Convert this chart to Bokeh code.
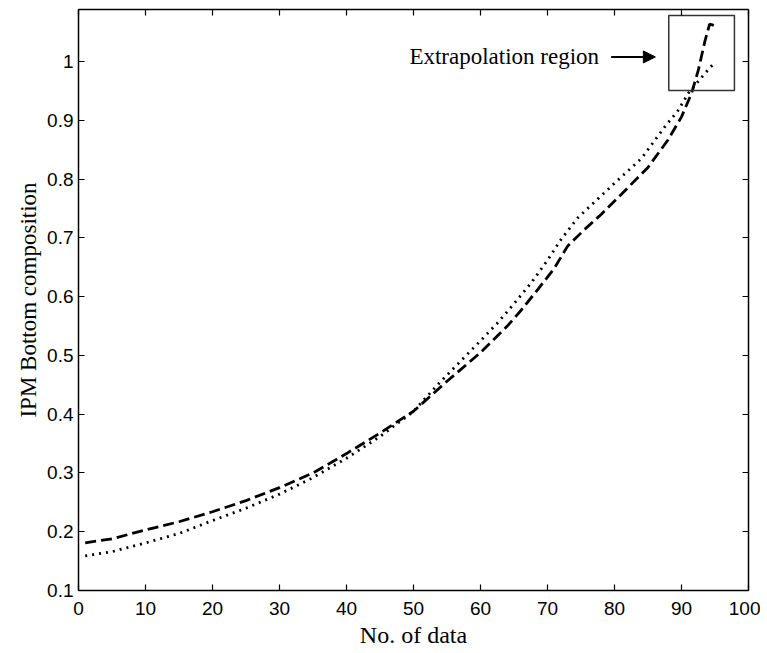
from bokeh.plotting import figure
from bokeh.models import (Range1d, FixedTicker, LinearAxis, CustomJSTickFormatter,
                          Arrow, NormalHead, Label)
from bokeh.embed import file_html
from bokeh.resources import INLINE

# ---- data ----
x_dashed = [1, 5, 10, 15, 20, 25, 30, 35, 40, 45, 50, 55, 60, 64, 66, 68.6, 71, 73, 75.5, 78,
            81, 85, 88, 90, 91.5, 92.5, 93.5, 94.2, 95]
y_dashed = [0.181, 0.188, 0.203, 0.217, 0.234, 0.253, 0.275, 0.300, 0.333, 0.368, 0.405,
            0.456, 0.505, 0.550, 0.576, 0.613, 0.648, 0.686, 0.714, 0.740, 0.774, 0.820,
            0.867, 0.906, 0.946, 0.985, 1.035, 1.064, 1.061]
x_dotted = [1, 5, 10, 15, 20, 25, 30, 35, 40, 45, 50, 54, 60, 62.6, 65, 67.6, 70, 72, 74.5,
            80, 84, 87.5, 89.5, 91, 93.5, 95]
y_dotted = [0.159, 0.166, 0.181, 0.197, 0.219, 0.240, 0.264, 0.292, 0.325, 0.362, 0.405,
            0.455, 0.525, 0.556, 0.588, 0.624, 0.662, 0.697, 0.734, 0.793, 0.835, 0.889,
            0.917, 0.946, 0.980, 0.999]
x_ticks = [0, 10, 20, 30, 40, 50, 60, 70, 80, 90, 100]
y_ticks = [0.1, 0.2, 0.3, 0.4, 0.5, 0.6, 0.7, 0.8, 0.9, 1.0]
box_x = [88.1, 97.9]
box_y = [0.951, 1.0785]
arrow_x = [79.5, 86.1]
arrow_y = 1.008
note_text = "Extrapolation region"
x_title = "No. of data"
y_title = "IPM Bottom composition"

p = figure(width=760, height=650, output_backend="svg", toolbar_location=None,
           x_range=Range1d(0, 100), y_range=Range1d(0.1, 1.0887))
p.min_border_left = 78
p.min_border_right = 12
p.min_border_top = 9
p.min_border_bottom = 58
p.outline_line_color = None
p.xgrid.visible = False
p.ygrid.visible = False
p.background_fill_color = "white"
p.border_fill_color = "white"

fmt = CustomJSTickFormatter(code="return (Math.round(tick*10)/10).toString();")

def style(ax, labels=True):
    ax.axis_line_color = "black"
    ax.axis_line_width = 1.5
    ax.major_tick_in = 6
    ax.major_tick_out = 0
    ax.minor_tick_line_color = None
    ax.major_tick_line_color = "black"
    ax.major_tick_line_width = 1.2
    ax.major_label_text_font = "Liberation Sans"
    ax.major_label_text_font_size = "19px"
    ax.major_label_text_color = "black"
    if not labels:
        ax.major_label_text_font_size = "0px"
        ax.major_label_text_color = None
        ax.major_label_standoff = 0

xa = p.xaxis[0]
ya = p.yaxis[0]
xa.ticker = FixedTicker(ticks=x_ticks)
ya.ticker = FixedTicker(ticks=y_ticks)
ya.formatter = fmt
style(xa)
style(ya)
xa.major_label_standoff = 11
ya.major_label_standoff = 5
xa.axis_label = x_title
ya.axis_label = y_title
for ax, size in ((xa, "24px"), (ya, "23px")):
    ax.axis_label_text_font = "Liberation Serif"
    ax.axis_label_text_font_size = size
    ax.axis_label_text_font_style = "normal"
    ax.axis_label_text_color = "black"
xa.axis_label_standoff = 4
ya.axis_label_standoff = 3

top = LinearAxis(ticker=FixedTicker(ticks=x_ticks))
right = LinearAxis(ticker=FixedTicker(ticks=y_ticks))
style(top, labels=False)
style(right, labels=False)
p.add_layout(top, "above")
p.add_layout(right, "right")

p.line(x_dashed, y_dashed, line_color="black", line_width=2.8, line_dash="11 5")
p.line(x_dotted, y_dotted, line_color="black", line_width=2.8, line_dash="2 5")

p.quad(left=[box_x[0]], right=[box_x[1]], bottom=[box_y[0]], top=[box_y[1]],
       fill_color=None, line_color="#333333", line_width=1.5)

p.add_layout(Arrow(end=NormalHead(size=12, fill_color="black", line_color="black"),
                   x_start=arrow_x[0], y_start=arrow_y, x_end=arrow_x[1], y_end=arrow_y,
                   line_color="black", line_width=2))
p.add_layout(Label(x=77.7, y=arrow_y, text=note_text, text_align="right",
                   text_baseline="middle", text_font="Liberation Serif",
                   text_font_size="23px", text_color="black"))

open("out.html", "w").write(file_html(p, INLINE))
